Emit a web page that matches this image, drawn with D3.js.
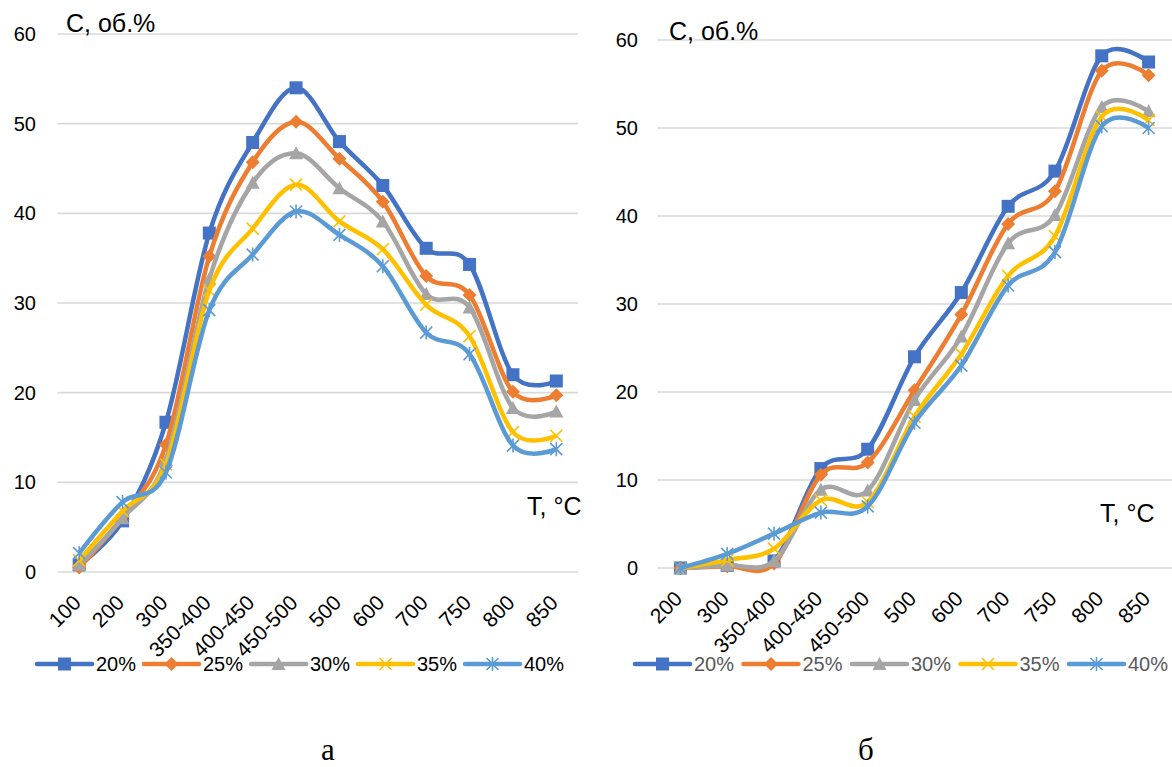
<!DOCTYPE html>
<html>
<head>
<meta charset="utf-8">
<script src="https://cdn.jsdelivr.net/npm/d3@7"></script>
<style>
  body { margin: 0; background: #fff; }
  text { font-family: "Liberation Sans", Arial, sans-serif; }
</style>
</head>
<body>
<script>
// categories (temperature, °C)
const catsA = ["100", "200", "300", "350-400", "400-450", "450-500", "500", "600", "700", "750", "800", "850"];
const catsB = ["200", "300", "350-400", "400-450", "450-500", "500", "600", "700", "750", "800", "850"];

const seriesNames = ["20%", "25%", "30%", "35%", "40%"];
const yTicks = [0, 10, 20, 30, 40, 50, 60];

// chart а
const a20 = [0.8, 5.7, 16.7, 37.8, 47.9, 54.0, 48.0, 43.1, 36.1, 34.3, 22.0, 21.3];
const a25 = [0.5, 6.2, 14.2, 35.2, 45.7, 50.2, 46.1, 41.3, 33.0, 30.9, 20.1, 19.7];
const a30 = [0.8, 6.0, 12.5, 32.7, 43.4, 46.7, 42.8, 39.1, 31.0, 29.5, 18.3, 17.9];
const a35 = [1.3, 6.8, 12.0, 31.4, 38.3, 43.2, 39.1, 36.0, 29.8, 26.3, 15.6, 15.2];
const a40 = [2.1, 7.8, 11.1, 29.2, 35.4, 40.2, 37.6, 34.1, 26.7, 24.3, 14.1, 13.7];

// chart б
const b20 = [0, 0.3, 0.8, 11.3, 13.5, 24.0, 31.3, 41.1, 45.1, 58.2, 57.5];
const b25 = [0, 0.2, 0.5, 10.6, 12.0, 20.2, 28.8, 39.1, 42.8, 56.5, 56.0];
const b30 = [0, 0.3, 0.8, 8.9, 8.8, 19.1, 26.3, 36.9, 40.1, 52.4, 51.9];
const b35 = [0, 0.9, 2.2, 7.7, 7.5, 17.2, 24.3, 33.2, 37.7, 51.3, 50.9];
const b40 = [0, 1.6, 3.9, 6.3, 7.0, 16.5, 23.0, 32.1, 35.9, 50.2, 50.0];

var colors = ["#4472C4", "#ED7D31", "#A5A5A5", "#FFC000", "#5B9BD5"];
var markers = ["square", "diamond", "triangle", "x", "star"];

var svg = d3.select("body")
  .append("svg")
  .attr("width", 1172)
  .attr("height", 767);

svg.append("rect").attr("width", 1172).attr("height", 767).attr("fill", "#fff");

function drawMarker(g, type, color) {
  if (type == "square") {
    g.append("rect").attr("x", -6.5).attr("y", -6.5).attr("width", 13).attr("height", 13).attr("fill", color);
  } else if (type == "diamond") {
    g.append("path").attr("d", "M0,-7L7,0L0,7L-7,0Z").attr("fill", color);
  } else if (type == "triangle") {
    g.append("path").attr("d", "M0,-7L7,6L-7,6Z").attr("fill", color);
  } else {
    var s = 6;
    var p = "M" + -s + "," + -s + "L" + s + "," + s + "M" + s + "," + -s + "L" + -s + "," + s;
    if (type == "star") p += "M0," + (-s - 1) + "L0," + (s + 1);
    g.append("path").attr("d", p).attr("stroke", color).attr("stroke-width", 1.6).attr("fill", "none");
  }
}

function drawChart(cfg) {
  var x = d3.scaleBand().domain(cfg.cats).range([cfg.left, cfg.right]);
  var y = d3.scaleLinear().domain([0, 60]).range([cfg.bottom, cfg.top]);
  var cx = function(c) { return x(c) + x.bandwidth() / 2; };

  var g = svg.append("g");

  // grid
  g.selectAll(".grid")
    .data(yTicks)
    .enter()
    .append("line")
    .attr("x1", cfg.left).attr("x2", cfg.right)
    .attr("y1", function(d) { return y(d); })
    .attr("y2", function(d) { return y(d); })
    .attr("stroke", "#D9D9D9")
    .attr("stroke-width", 1.6);

  // y axis labels (no axis line in the original)
  var yAxis = d3.axisLeft(y).tickValues(yTicks).tickSize(0).tickPadding(cfg.left - cfg.yLabelX);
  g.append("g")
    .attr("transform", "translate(" + cfg.left + ",0)")
    .call(yAxis)
    .call(function(a) { a.select(".domain").remove(); })
    .selectAll("text")
    .attr("font-family", "Liberation Sans, Arial, sans-serif")
    .attr("font-size", 20)
    .attr("fill", "#000");

  // x labels, rotated
  var xAxis = d3.axisBottom(x).tickSize(0).tickPadding(0);
  g.append("g")
    .attr("transform", "translate(0," + cfg.bottom + ")")
    .call(xAxis)
    .call(function(a) { a.select(".domain").remove(); })
    .selectAll("text")
    .attr("font-family", "Liberation Sans, Arial, sans-serif")
    .attr("font-size", 21)
    .attr("fill", "#000")
    .attr("text-anchor", "end")
    .attr("y", 0)
    .attr("dy", 0)
    .attr("transform", "translate(3,32) rotate(-45)");

  // lines + markers
  var line = d3.line()
    .x(function(d, i) { return cx(cfg.cats[i]); })
    .y(function(d) { return y(d); })
    .curve(d3.curveCardinal.tension(0));

  cfg.series.forEach(function(vals, k) {
    g.append("path")
      .datum(vals)
      .attr("d", line)
      .attr("fill", "none")
      .attr("stroke", colors[k])
      .attr("stroke-width", 4.5)
      .attr("stroke-linejoin", "round");

    vals.forEach(function(v, i) {
      var m = g.append("g").attr("transform", "translate(" + cx(cfg.cats[i]) + "," + y(v) + ")");
      drawMarker(m, markers[k], colors[k]);
    });
  });

  // axis titles
  g.append("text")
    .attr("x", cfg.cTitle[0]).attr("y", cfg.cTitle[1])
    .attr("font-size", 25)
    .text("C, об.%");
  g.append("text")
    .attr("x", cfg.tTitle[0]).attr("y", cfg.tTitle[1])
    .attr("font-size", 25)
    .text("T, °C");

  // legend
  seriesNames.forEach(function(name, k) {
    var lx = cfg.legendX + k * cfg.legendStep;
    var lg = g.append("g").attr("transform", "translate(" + lx + "," + cfg.legendY + ")");
    lg.append("line")
      .attr("x1", 0).attr("x2", 55)
      .attr("stroke", colors[k])
      .attr("stroke-width", 4.5)
      .attr("stroke-linecap", "round");
    var m = lg.append("g").attr("transform", "translate(27.5,0)");
    drawMarker(m, markers[k], colors[k]);
    lg.append("text")
      .attr("x", 59).attr("dy", "0.35em")
      .attr("font-size", 20)
      .attr("fill", cfg.legendColor)
      .text(name);
  });

  // caption
  g.append("text")
    .attr("x", cfg.caption[0]).attr("y", 760)
    .attr("text-anchor", "middle")
    .style("font-family", "'Liberation Serif', 'Times New Roman', serif")
    .attr("font-size", 31)
    .text(cfg.captionText);
}

drawChart({
  cats: catsA,
  series: [a20, a25, a30, a35, a40],
  left: 57.5, right: 578, top: 34, bottom: 572,
  yLabelX: 36,
  cTitle: [66, 32], tTitle: [527, 515],
  legendX: 37, legendStep: 107, legendY: 664, legendColor: "#000",
  caption: [328], captionText: "а"
});

drawChart({
  cats: catsB,
  series: [b20, b25, b30, b35, b40],
  left: 657, right: 1172, top: 40, bottom: 568,
  yLabelX: 638,
  cTitle: [669, 40], tTitle: [1100, 522],
  legendX: 635, legendStep: 108.5, legendY: 664, legendColor: "#595959",
  caption: [866], captionText: "б"
});
</script>
</body>
</html>
